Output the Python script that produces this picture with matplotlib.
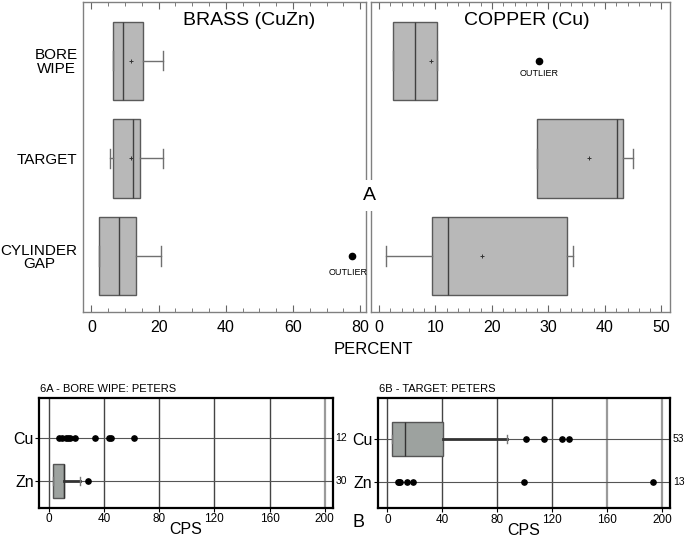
import numpy as np
import matplotlib
matplotlib.use("Agg")
import matplotlib.pyplot as plt

plt.rcParams['font.family'] = ['Liberation Sans', 'DejaVu Sans']

# ---- top: percent by sample location ----
groups = ['BORE\nWIPE', 'TARGET', 'CYLINDER\nGAP']
group_pos = [3, 2, 1]

brass_q1 = [6.3, 6.4, 2.4]
brass_med = [9.4, 12.4, 8.1]
brass_q3 = [15.4, 14.4, 13.2]
brass_lo = [6.3, 5.4, 2.4]
brass_hi = [21.2, 21.2, 20.8]
brass_mean = [11.7, 11.9, np.nan]
brass_out = [[], [], [77.5]]

copper_q1 = [2.5, 28.0, 9.3]
copper_med = [6.4, 42.2, 12.2]
copper_q3 = [10.35, 43.2, 33.3]
copper_lo = [2.5, 28.0, 1.3]
copper_hi = [10.35, 45.0, 34.3]
copper_mean = [9.2, 37.2, 18.2]
copper_out = [[28.3], [], []]

# ---- bottom: CPS (Peters) ----
rows = ['Cu', 'Zn']
row_pos = [2, 1]

bore_cu_pts = [7.5, 9.2, 12.5, 14.0, 15.5, 18.8, 33.3, 43.8, 44.8, 61.5]
bore_zn_box = dict(q1=2.7, med=10.6, q3=10.7, whislo=2.7, whishi=22.5, fliers=[28.5])
bore_n = ['12', '30']

target_cu_box = dict(q1=3.6, med=13.2, q3=40.8, whislo=3.6, whishi=86.9,
                     fliers=[100.8, 114.4, 127.2, 132.3])
target_zn_pts = [7.7, 8.6, 9.4, 14.0, 18.6, 99.5, 193.3]
target_n = ['53', '13']

cps_ticks = [0, 40, 80, 120, 160, 200]


def make_stats(q1, med, q3, lo, hi, out):
    stats = []
    for i in range(len(q1)):
        stats.append(dict(q1=q1[i], med=med[i], q3=q3[i], whislo=lo[i],
                          whishi=hi[i], fliers=out[i]))
    return stats


def top_panel(ax, stats, means, title, title_x, xlim, major, minor):
    ax.bxp(stats, positions=group_pos, widths=0.8, orientation='horizontal',
           patch_artist=True, capwidths=0.2,
           boxprops=dict(facecolor='#b8b8b8', edgecolor='#5a5a5a', linewidth=1),
           medianprops=dict(color='#404040', linewidth=1),
           whiskerprops=dict(color='#707070', linewidth=1),
           capprops=dict(color='#707070', linewidth=1),
           flierprops=dict(marker='o', markersize=4.5, markerfacecolor='black',
                           markeredgecolor='black'))
    ax.plot(means, group_pos, '+', color='#333333', markersize=3, mew=0.7)
    ax.set_xlim(*xlim)
    ax.set_ylim(0.43, 3.6)
    ax.set_xticks(major)
    ax.set_xticks(minor, minor=True)
    ax.tick_params(axis='x', which='both', direction='in', top=True,
                   color='#666666', labelsize=11.5, pad=6)
    ax.tick_params(axis='x', which='major', length=5)
    ax.tick_params(axis='x', which='minor', length=3)
    for s in ax.spines.values():
        s.set_color('#808080')
        s.set_linewidth(1)
    ax.text(title_x, 0.94, title, transform=ax.transAxes, ha='center',
            va='center', fontsize=14)


def bottom_panel(ax, title, n_labels, light_lines):
    ax.set_xlim(-7, 205.8)
    ax.set_ylim(0.375, 2.95)
    for t in cps_ticks:
        if t in light_lines:
            ax.axvline(t, color='#9a9a9a', linewidth=1.6, zorder=0)
        else:
            ax.axvline(t, color='#444444', linewidth=1, zorder=0)
    for p in row_pos:
        ax.axhline(p, color='#555555', linewidth=0.8, zorder=0)
    ax.set_xticks(cps_ticks)
    ax.set_xticklabels([str(t) for t in cps_ticks])
    ax.set_yticks(row_pos)
    ax.set_yticklabels(rows)
    ax.tick_params(axis='x', length=3, width=0.8, labelsize=8.5, pad=1)
    ax.tick_params(axis='y', length=3, width=0.8, labelsize=11.5, pad=1)
    for s in ax.spines.values():
        s.set_linewidth(1.6)
    ax.set_xlabel('CPS', fontsize=11.5)
    ax.xaxis.set_label_coords(0.5, -0.13)
    ax.text(0.003, 1.035, title, transform=ax.transAxes, ha='left',
            va='bottom', fontsize=8)
    for p, n in zip(row_pos, n_labels):
        ax.annotate(n, (1, p), xycoords=('axes fraction', 'data'),
                    xytext=(2, 0), textcoords='offset points',
                    ha='left', va='center', fontsize=7.5)


def cps_box(ax, stats, pos):
    ax.bxp([stats], positions=[pos], widths=0.8, orientation='horizontal',
           patch_artist=True, capwidths=0.18, manage_ticks=False,
           boxprops=dict(facecolor='#9da29f', edgecolor='#555555', linewidth=1),
           medianprops=dict(color='#333333', linewidth=1),
           whiskerprops=dict(color='#333333', linewidth=2),
           capprops=dict(color='#777777', linewidth=1),
           flierprops=dict(marker='o', markersize=3.8, markerfacecolor='black',
                           markeredgecolor='black'))


fig = plt.figure(figsize=(6.85, 5.37), dpi=100)

ax1 = fig.add_axes([0.1216, 0.419, 0.4127, 0.5773])
ax2 = fig.add_axes([0.542, 0.419, 0.436, 0.5773])

top_panel(ax1, make_stats(brass_q1, brass_med, brass_q3, brass_lo, brass_hi, brass_out),
          brass_mean, 'BRASS (CuZn)', 0.585, (-2.4, 81.7),
          [0, 20, 40, 60, 80], np.arange(0, 82, 5))
ax1.set_yticks(group_pos)
ax1.set_yticklabels(groups)
ax1.tick_params(axis='y', length=0, labelsize=11, pad=4)
for lab in ax1.get_yticklabels():
    lab.set_multialignment('center')
    lab.set_linespacing(0.95)
ax1.annotate('OUTLIER', (brass_out[2][0], 1), xytext=(-3, -12),
             textcoords='offset points', ha='center', va='center', fontsize=6.5)

top_panel(ax2, make_stats(copper_q1, copper_med, copper_q3, copper_lo, copper_hi, copper_out),
          copper_mean, 'COPPER (Cu)', 0.52, (-1.37, 51.5),
          [0, 10, 20, 30, 40, 50], np.arange(0, 52, 2))
ax2.set_yticks([])
ax2.annotate('OUTLIER', (copper_out[0][0], 3), xytext=(0, -9.5),
             textcoords='offset points', ha='center', va='center', fontsize=6.5)

fig.text(0.5455, 0.349, 'PERCENT', ha='center', va='center', fontsize=12)
fig.text(0.5387, 0.636, 'A', ha='center', va='center', fontsize=14,
         bbox=dict(facecolor='white', edgecolor='none', pad=5))

# bottom panels
ax3 = fig.add_axes([0.0574, 0.0546, 0.4283, 0.2048])
ax3.plot(bore_cu_pts, [2] * len(bore_cu_pts), 'o', color='black', markersize=3.8)
cps_box(ax3, bore_zn_box, 1)
bottom_panel(ax3, '6A - BORE WIPE: PETERS', bore_n, [200])

ax4 = fig.add_axes([0.5514, 0.0534, 0.4267, 0.2048])
cps_box(ax4, target_cu_box, 2)
ax4.plot(target_zn_pts, [1] * len(target_zn_pts), 'o', color='black', markersize=3.8)
bottom_panel(ax4, '6B - TARGET: PETERS', target_n, [160, 200])

fig.text(0.523, 0.027, 'B', ha='center', va='center', fontsize=13)

plt.savefig('out.png', dpi=100)
